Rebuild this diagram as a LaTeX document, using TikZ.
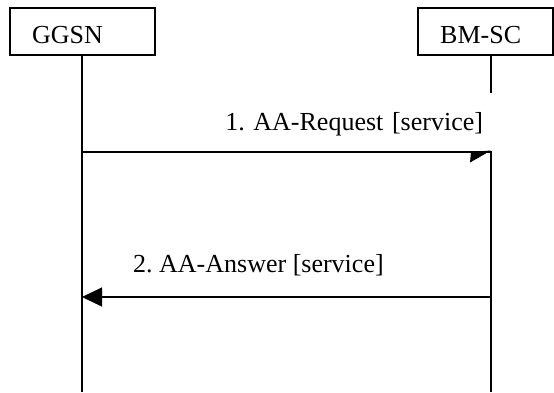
\documentclass[tikz,border=0pt]{standalone}
\usepackage{fontspec}
\setmainfont{Liberation Serif}
\usetikzlibrary{arrows.meta,calc}
\frenchspacing
\begin{document}
\begin{tikzpicture}[x=1pt,y=-1pt,
  every node/.style={font=\fontsize{26}{30}\selectfont},
  entity/.style={draw,line width=1.2pt,inner sep=0pt},
  lifeline/.style={line width=1.2pt},
  msg/.style={line width=1.2pt},
  msglabel/.style={fill=white,inner sep=0pt,inner xsep=13pt,text height=17pt,text depth=0pt,minimum height=58pt,align=right}]
\useasboundingbox (0,0) rectangle (554,392);
% entity boxes
\node[entity,minimum width=145pt,minimum height=47pt] (ggsnbox) at (82.5,31.5) {};
\node[entity,minimum width=135pt,minimum height=47pt] (bmscbox) at (485.5,31.5) {};
\node[anchor=base west,inner sep=0pt] (ggsn) at (32,43) {GGSN};
\node[anchor=base west,inner sep=0pt] (bmsc) at (440,43) {BM-SC};
% lifelines
\coordinate (gtop) at (82,55);
\coordinate (gbot) at (82,392);
\coordinate (btop) at (491,55);
\coordinate (bbot) at (491,392);
\draw[lifeline] (gtop) -- (gbot);
\draw[lifeline] (btop) -- (bbot);
% message 1
\coordinate (g1) at (82,152);
\coordinate (b1) at (491,152);
\node[msglabel,text width=270pt] (m1) at (348,121.5) {1. AA-Request [service]};
\draw[msg] (g1) -- (b1);
\fill (b1) ++(0,-1.5) -- ++(-20,1.5) -- ++(-1,10.5) -- cycle;
% message 2
\coordinate (g2) at (82,297);
\coordinate (b2) at (491,297);
\node[anchor=base west,inner sep=0pt] (m2) at (133,272) {2. AA-Answer [service]};
\draw[msg,-{Triangle[length=20pt,width=19pt]}] (b2) -- (g2);
\end{tikzpicture}
\end{document}
